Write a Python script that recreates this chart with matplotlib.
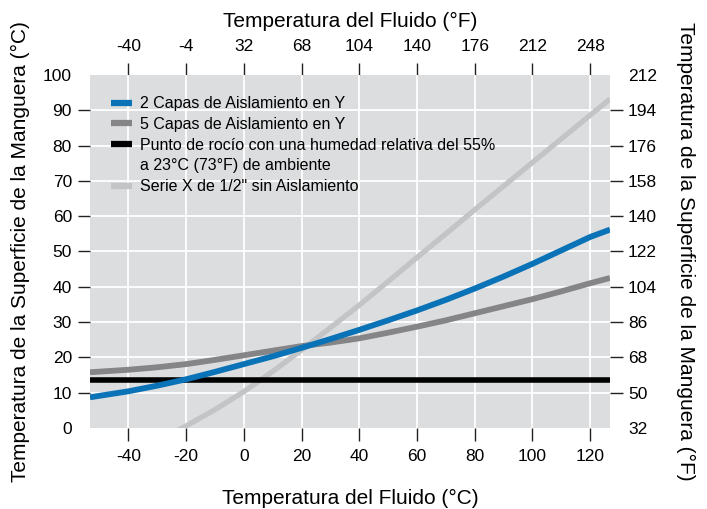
import matplotlib
matplotlib.use('Agg')
import matplotlib.pyplot as plt
from matplotlib.lines import Line2D

plt.rcParams['font.family'] = ['Liberation Sans', 'DejaVu Sans']
plt.rcParams['axes.unicode_minus'] = False

# Temperatura del fluido (°C) y temperatura de superficie (°C)
fluido_c = [-53.3, -40, -30, -20, -10, 0, 10, 20, 30, 40, 50, 60, 70, 80, 90, 100, 110, 120, 126.9]
capas2 = [8.7, 10.4, 12.0, 13.8, 15.9, 18.1, 20.3, 22.7, 25.2, 27.8, 30.5, 33.3, 36.3, 39.5, 42.9, 46.5, 50.3, 54.1, 56.2]
capas5 = [15.8, 16.5, 17.2, 18.1, 19.3, 20.6, 21.9, 23.2, 24.2, 25.4, 27.0, 28.7, 30.5, 32.5, 34.5, 36.5, 38.7, 41.0, 42.5]

fluido_sin = [-24, -20, -10, 0, 10, 20, 30, 40, 50, 60, 70, 80, 90, 100, 110, 120, 126.9]
sin_aisl = [-1.2, 0.6, 5.2, 10.3, 16.0, 22.1, 28.4, 34.8, 41.5, 48.3, 55.0, 61.8, 68.5, 75.2, 81.9, 88.6, 93.2]

rocio_x = [-53.3, 126.9]
rocio = [13.6, 13.6]

xticks_c = [-40, -20, 0, 20, 40, 60, 80, 100, 120]
xticks_f = [-40, -4, 32, 68, 104, 140, 176, 212, 248]
yticks_c = [10, 20, 30, 40, 50, 60, 70, 80, 90]
yticks_f = [50, 68, 86, 104, 122, 140, 158, 176, 194]

AZUL = '#0a72b6'
GRIS = '#858587'
CLARO = '#c3c4c6'
FONDO = '#dcdddf'


def c2f(c):
    return c * 9 / 5 + 32


def f2c(f):
    return (f - 32) * 5 / 9


fig = plt.figure(figsize=(7.07, 5.09), dpi=100)
ax = fig.add_axes([0.1273, 0.1591, 0.7355, 0.6936])
ax.set_facecolor(FONDO)
for s in ax.spines.values():
    s.set_visible(False)

ax.plot(fluido_sin, sin_aisl, color=CLARO, lw=3.8, solid_capstyle='butt', zorder=3)
ax.plot(rocio_x, rocio, color='black', lw=4.0, solid_capstyle='butt', zorder=4)
ax.plot(fluido_c, capas5, color=GRIS, lw=4.2, solid_capstyle='butt', zorder=5)
ax.plot(fluido_c, capas2, color=AZUL, lw=4.2, solid_capstyle='butt', zorder=6)

ax.set_xlim(-53.3, 126.9)
ax.set_ylim(0, 100)

tick_kw = dict(length=9, width=1.0, color='#222222', labelsize=12.5, direction='out')
ax.set_xticks(xticks_c)
ax.set_yticks(yticks_c)
ax.set_yticks([0, 100], minor=True)
ax.set_yticklabels(['0', '100'], minor=True)
ax.tick_params(axis='x', pad=6, **tick_kw)
ax.tick_params(axis='y', pad=4, **tick_kw)
ax.tick_params(axis='y', which='minor', length=0, pad=4 + 9 * 1.0, labelsize=12.5)
ax.grid(True, which='major', color='white', lw=1.3)
ax.set_axisbelow(True)

ax.set_xlabel('Temperatura del Fluido (°C)', fontsize=15, labelpad=18)
ax.set_ylabel('Temperatura de la Superficie de la Manguera (°C)', fontsize=15, labelpad=9)

# Eje superior en °F
top = ax.secondary_xaxis('top', functions=(c2f, f2c))
top.set_xticks(xticks_f)
top.tick_params(axis='x', pad=6, **tick_kw)
top.spines['top'].set_visible(False)
top.set_xlabel('Temperatura del Fluido (°F)', fontsize=15, labelpad=9)

# Eje derecho en °F
der = ax.secondary_yaxis('right', functions=(c2f, f2c))
der.set_yticks(yticks_f)
der.set_yticks([32, 212], minor=True)
der.set_yticklabels(['32', '212'], minor=True)
der.tick_params(axis='y', pad=4, **tick_kw)
der.tick_params(axis='y', which='minor', length=0, pad=4 + 9 * 1.0, labelsize=12.5)
der.spines['right'].set_visible(False)
der.set_ylabel('Temperatura de la Superficie de la Manguera (°F)', fontsize=15,
               rotation=270, labelpad=27)

handles = [
    Line2D([], [], color=AZUL, lw=4.5, solid_capstyle='butt'),
    Line2D([], [], color=GRIS, lw=4.5, solid_capstyle='butt'),
    Line2D([], [], color='black', lw=4.5, solid_capstyle='butt'),
    Line2D([], [], color='none'),
    Line2D([], [], color=CLARO, lw=4.5, solid_capstyle='butt'),
]
labels = [
    '2 Capas de Aislamiento en Y',
    '5 Capas de Aislamiento en Y',
    'Punto de rocío con una humedad relativa del 55%',
    'a 23°C (73°F) de ambiente',
    'Serie X de 1/2" sin Aislamiento',
]
ax.legend(handles, labels, loc='upper left', bbox_to_anchor=(0.04, 0.94),
          frameon=False, fontsize=11.5, handlelength=1.35, handletextpad=0.5,
          labelspacing=0.36, borderpad=0, borderaxespad=0)

fig.savefig('out.png', dpi=100)
